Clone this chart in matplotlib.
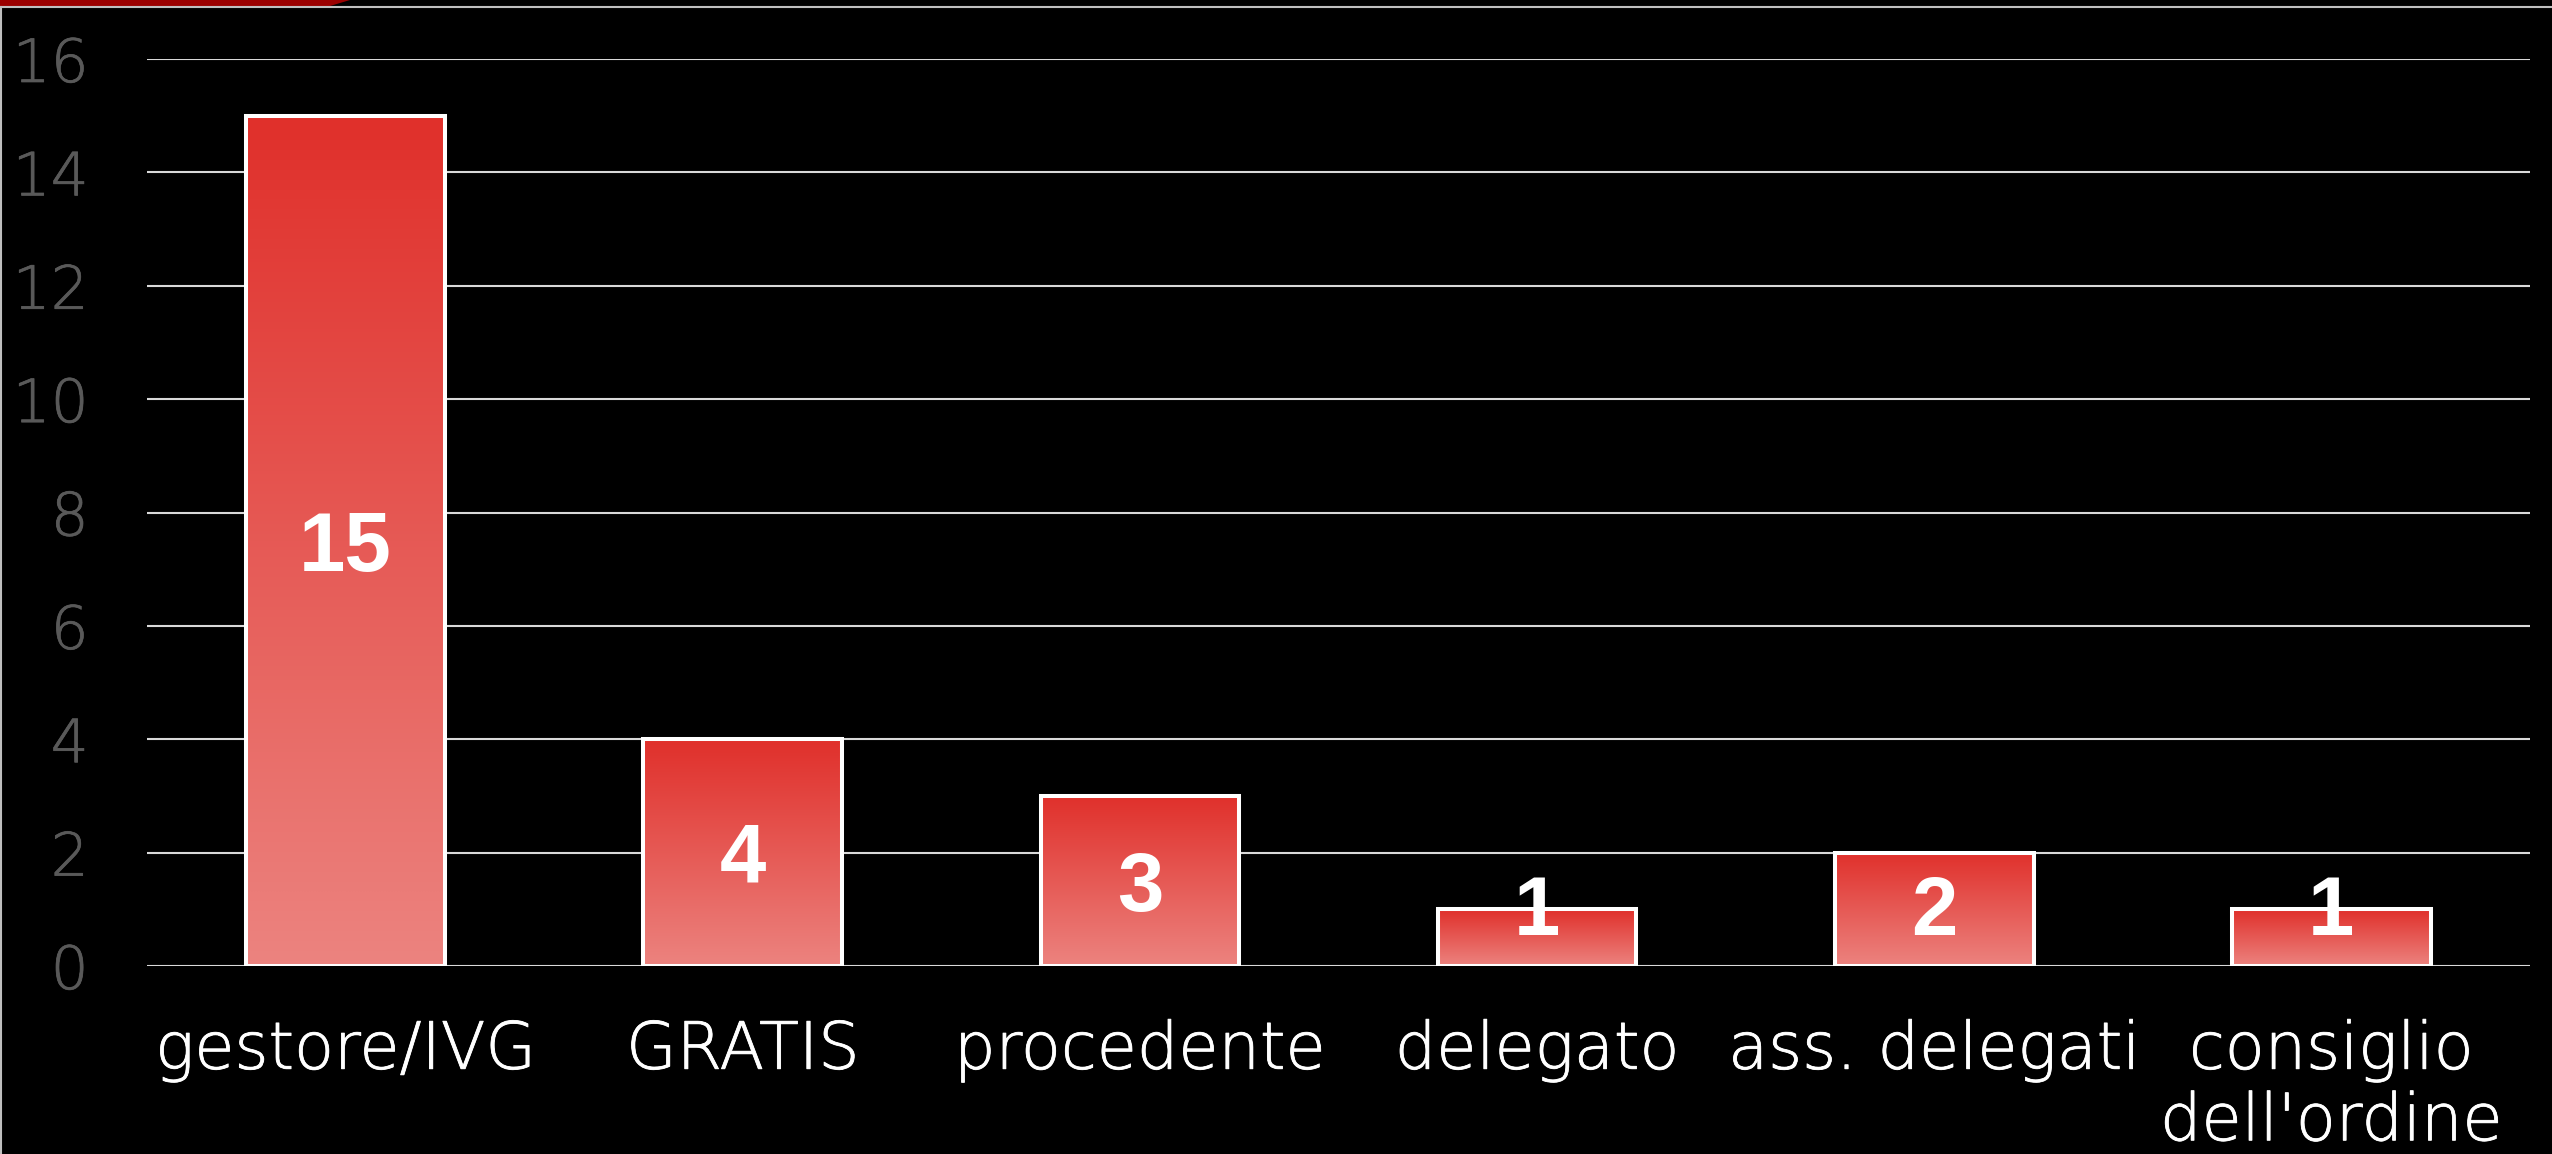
import numpy as np
import matplotlib
matplotlib.use("Agg")
import matplotlib.pyplot as plt
import matplotlib.patheffects as pe
from matplotlib.lines import Line2D
from matplotlib.patches import Polygon
from matplotlib.colors import LinearSegmentedColormap

categories = ["gestore/IVG", "GRATIS", "procedente", "delegato",
              "ass. delegati", "consiglio\ndell'ordine"]
values = [15, 4, 3, 1, 2, 1]
y_ticks = [0, 2, 4, 6, 8, 10, 12, 14, 16]

W, H = 2552, 1154
fig = plt.figure(figsize=(W / 100, H / 100), dpi=100, facecolor="black")
ax = fig.add_axes([147 / W, 1 - 966 / H, (2530 - 147) / W, (966 - 59) / H])
ax.set_facecolor("black")

# gradient fill, red at the top fading to pink
grad = LinearSegmentedColormap.from_list("bar", ["#ec837f", "#e0302b"])
x = np.arange(len(categories))
bars = ax.bar(x, values, width=0.5, facecolor="none", edgecolor="white",
              linewidth=2.9, zorder=3)
for b in bars:
    x0, w, h = b.get_x(), b.get_width(), b.get_height()
    g = np.linspace(0, 1, 256).reshape(-1, 1)
    im = ax.imshow(g, cmap=grad, origin="lower", aspect="auto",
                   extent=(x0, x0 + w, 0, h), zorder=2, interpolation="bilinear")
    im.set_clip_path(b)

for i, v in enumerate(values):
    ax.annotate(str(v), (i, max(v / 2, 1.08)), xytext=(0, -21.5),
                textcoords="offset points", ha="center", va="baseline",
                color="white", fontsize=60, fontweight="bold",
                family="Liberation Sans", zorder=5)

ax.set_xlim(-0.5, len(categories) - 0.5)
ax.set_ylim(0, 16)
ax.set_yticks(y_ticks)
ax.set_xticks(x)
ax.set_xticklabels(categories, fontsize=47, color="white", family="DejaVu Sans",
                   fontweight="light", linespacing=1.15)
ax.set_yticklabels([str(t) for t in y_ticks], fontsize=43, color="#595959",
                   family="DejaVu Sans", fontweight="light")
# thicken the extra-light glyphs a little
for t in ax.get_xticklabels():
    t.set_path_effects([pe.withStroke(linewidth=0.6, foreground="white")])
for t in ax.get_yticklabels():
    t.set_path_effects([pe.withStroke(linewidth=0.5, foreground="#595959")])
ax.tick_params(axis="both", length=0)
ax.tick_params(axis="x", pad=38)
ax.tick_params(axis="y", pad=42)
ax.yaxis.grid(True, color="#d9d9d9", linewidth=1.5)
ax.set_axisbelow(True)
for s in ax.spines.values():
    s.set_visible(False)

# slide frame bits
fig.add_artist(Line2D([0, 1], [1 - 7 / H, 1 - 7 / H], color="#bfbfbf",
                      linewidth=1.5, transform=fig.transFigure))
fig.add_artist(Line2D([1 / W, 1 / W], [0, 1 - 7 / H], color="#bfbfbf",
                      linewidth=1.5, transform=fig.transFigure))
fig.add_artist(Polygon([(0, 1), (350 / W, 1), (330 / W, 1 - 6 / H), (0, 1 - 6 / H)],
                       closed=True, facecolor="#9b0000", edgecolor="none",
                       transform=fig.transFigure))

fig.savefig("out.png", dpi=100, facecolor="black")
